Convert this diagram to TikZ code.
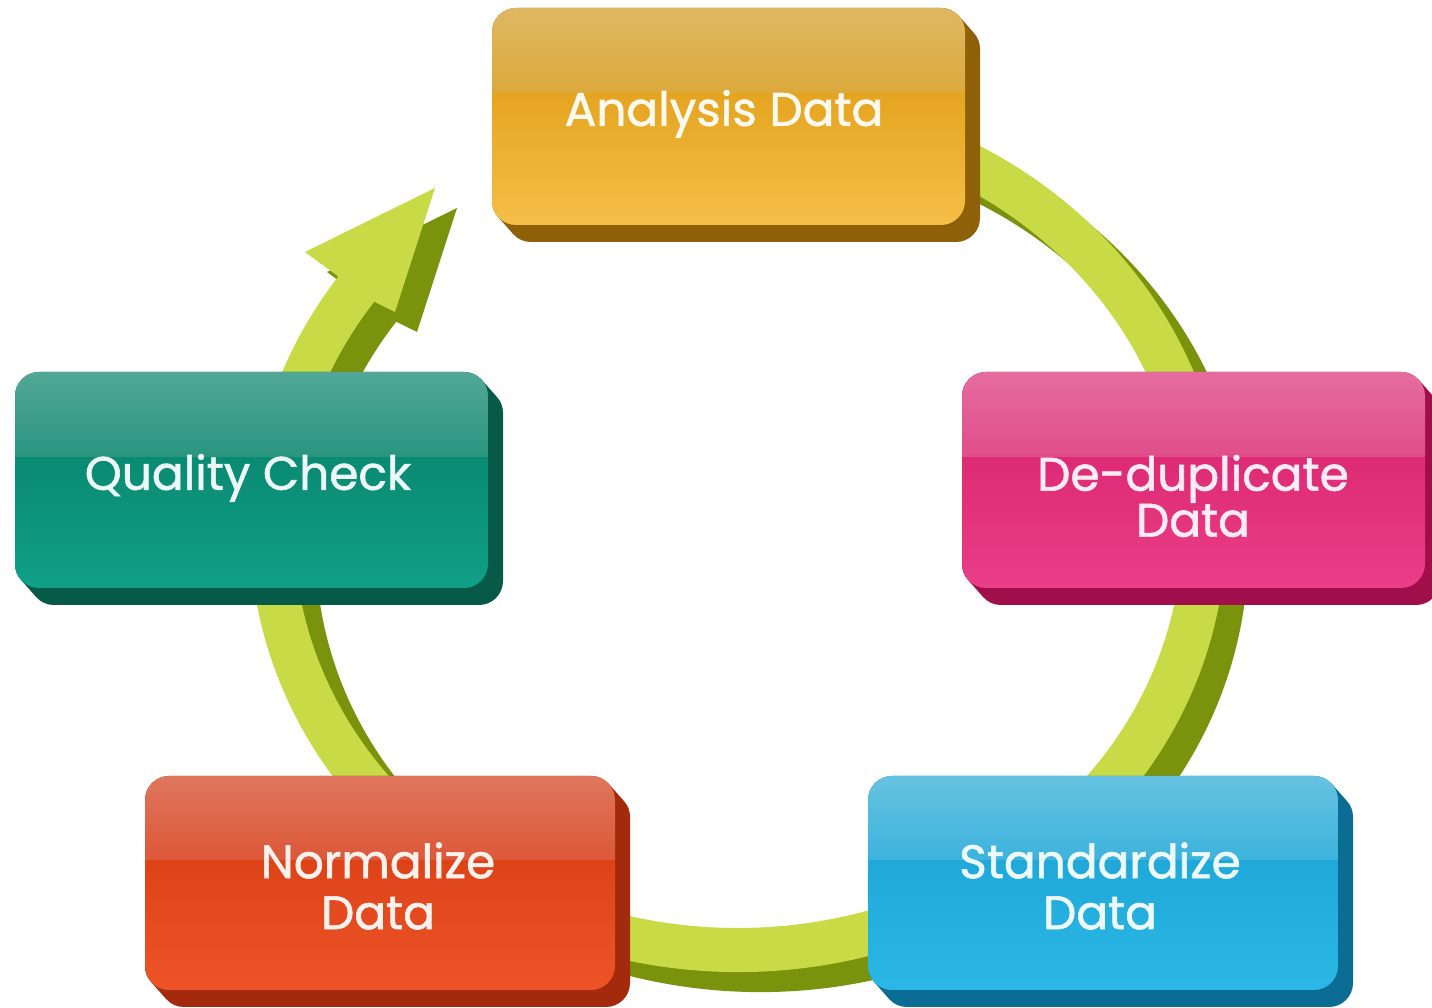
\documentclass[tikz,border=0pt]{standalone}
\usepackage{fontspec}
\setmainfont{Poppins}
\newfontfamily\boxfont[UprightFeatures={FakeBold=1.3}]{Poppins}
\usetikzlibrary{calc}
% ring colours
\definecolor{ringlight}{HTML}{C8DA46}
\definecolor{ringdark}{HTML}{7A920C}
% Analysis (A)
\definecolor{Atopa}{HTML}{DFB862}
\definecolor{Atopb}{HTML}{DCA93C}
\definecolor{Abase}{HTML}{E5A420}
\definecolor{Alight}{HTML}{F4BF48}
\definecolor{Adark}{HTML}{8E6008}
% Quality (Q)
\definecolor{Qtopa}{HTML}{52A797}
\definecolor{Qtopb}{HTML}{2A9580}
\definecolor{Qbase}{HTML}{0A8A72}
\definecolor{Qlight}{HTML}{10A088}
\definecolor{Qdark}{HTML}{075A48}
% De-duplicate (D)
\definecolor{Dtopa}{HTML}{E56C9E}
\definecolor{Dtopb}{HTML}{E04E8A}
\definecolor{Dbase}{HTML}{DE2A74}
\definecolor{Dlight}{HTML}{EA3E88}
\definecolor{Ddark}{HTML}{A00E4C}
% Normalize (N)
\definecolor{Ntopa}{HTML}{DF765C}
\definecolor{Ntopb}{HTML}{DC5838}
\definecolor{Nbase}{HTML}{DE4318}
\definecolor{Nlight}{HTML}{EC5428}
\definecolor{Ndark}{HTML}{A32A0C}
% Standardize (S)
\definecolor{Stopa}{HTML}{66C2E0}
\definecolor{Stopb}{HTML}{3DB3DD}
\definecolor{Sbase}{HTML}{1FA8D8}
\definecolor{Slight}{HTML}{2BB8E6}
\definecolor{Sdark}{HTML}{0B6D93}

\tikzset{
  boxtext/.style={align=center, inner sep=0pt, font=\boxfont\fontsize{47}{40}\selectfont},
}

% #1 prefix, #2 x0, #3 y0, #4 x1, #5 y1
\newcommand\procshape[5]{%
  \filldraw[fill=#1dark, draw=#1dark, line width=48pt, line join=round]
    (#2+24,#3+24) -- (#2+24+15,#3+24-17) -- (#4-24+15,#3+24-17)
    -- (#4-24+15,#5-24-17) -- (#4-24,#5-24) -- (#2+24,#5-24) -- cycle;
  \begin{scope}
    \clip[rounded corners=24pt] (#2,#3) rectangle (#4,#5);
    \pgfmathsetmacro\ymid{#3+0.61*(#5-#3)}
    \shade[top color=#1base, bottom color=#1light] (#2,#3) rectangle (#4,\ymid);
    \shade[top color=#1topa, bottom color=#1topb] (#2,\ymid) rectangle (#4,#5);
  \end{scope}
}

\def\ringshape{(856.06,906.87) arc[start angle=76, end angle=-215, x radius=488, y radius=442]
  -- (305,756) -- (435,820) -- (395,696) -- (374.3,706.3)
  arc[start angle=-215, end angle=76, x radius=444, y radius=398] -- cycle}

\begin{document}
\begin{tikzpicture}[x=1pt,y=1pt]
\useasboundingbox (0,0) rectangle (1432,1008);
\fill[white] (0,0) rectangle (1432,1008);

% cycle ring with arrow head
\begin{scope}[shift={(22,-20)}]
  \fill[ringdark] \ringshape;
\end{scope}
\fill[ringlight] \ringshape;

% boxes
\procshape{A}{492}{783}{965}{1000}
\procshape{Q}{15}{420}{488}{636}
\procshape{D}{962}{420}{1425}{636}
\procshape{N}{145}{18}{615}{232}
\procshape{S}{868}{18}{1338}{232}

\node[boxtext, text=white!92!Alight] (analysis) at (724,894) {Analysis Data};
\node[boxtext, text=white!92!Qlight] (quality) at (248,530) {Quality Check};
\node[boxtext, text=white!90!Dlight, font=\boxfont\fontsize{47}{37}\selectfont] (dedup) at (1193,512) {De-duplicate\\Data};
\node[boxtext, text=white!92!Nlight, font=\boxfont\fontsize{47}{51}\selectfont] (normalize) at (378,122) {Normalize\\Data};
\node[boxtext, text=white!92!Slight, font=\boxfont\fontsize{47}{51}\selectfont] (standardize) at (1100,122) {Standardize\\Data};
\end{tikzpicture}
\end{document}
